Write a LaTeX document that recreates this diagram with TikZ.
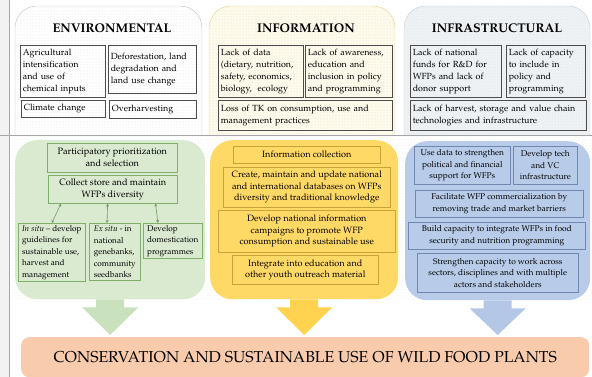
\documentclass[tikz,border=0pt]{standalone}
\usepackage[T1]{fontenc}
\usepackage{mathpazo}
\usepackage{xcolor}
\usepackage{tikz}
\usetikzlibrary{calc,patterns,arrows.meta}

\definecolor{infofill}{HTML}{FFFBEA}
\definecolor{infoline}{HTML}{E3CF86}
\definecolor{infrafill}{HTML}{EEF2F5}
\definecolor{infraline}{HTML}{C3CFD9}
\definecolor{gpanel}{HTML}{D9EAD0}
\definecolor{gline}{HTML}{7FAF6A}
\definecolor{garrow}{HTML}{C9E1BC}
\definecolor{ypanel}{HTML}{FFD966}
\definecolor{yline}{HTML}{C8A33A}
\definecolor{yarrow}{HTML}{FFD34F}
\definecolor{bpanel}{HTML}{B8CCEA}
\definecolor{bline}{HTML}{7088B0}
\definecolor{barrow}{HTML}{B4C7E7}
\definecolor{goal}{HTML}{F8CBAD}

\newcommand{\dropArrow}[3]{%
	\fill[#1] ($(#2.south)+(-14,0)$) -- ++(0,8) -- ++(-14,0) -- ($(#2.south |- #3.north)+(0,-2)$)
		-- ($(#2.south)+(28,8)$) -- ($(#2.south)+(14,8)$) -- ($(#2.south)+(14,0)$) -- cycle;}

\begin{document}
\begin{tikzpicture}[x=1pt,y=-1pt,
	ttl/.style={font=\bfseries\fontsize{12.6}{15}\selectfont},
	issue/.style={draw=black!70,line width=.6pt,anchor=north west,align=left,inner sep=2.5pt,font=\fontsize{8.9}{12}\selectfont},
	panel/.style={anchor=north west,rounded corners=22pt,inner sep=0pt},
	act/.style={anchor=north west,align=center,inner sep=2pt,line width=.6pt},
	gbox/.style={act,draw=gline,font=\fontsize{9.2}{12}\selectfont},
	gsmall/.style={act,draw=gline,align=left,font=\fontsize{8.2}{11.5}\selectfont},
	ybox/.style={act,draw=yline,font=\fontsize{9.1}{11.5}\selectfont},
	blubox/.style={act,draw=bline,font=\fontsize{8.4}{11.5}\selectfont},
	garw/.style={{Stealth[length=3pt,width=3pt]}-{Stealth[length=3pt,width=3pt]},draw=gline!90!black,line width=.6pt},
	dotted bg/.style={postaction={pattern=dots,pattern color=black!12}}]
	\useasboundingbox (0,0) rectangle (592,377);
	\fill[black!5] (0,0) rectangle (8.5,377);
	\path[pattern=dots,pattern color=black!10] (9,135) rectangle (592,300);

	% problem panels
	\draw[black!25,fill=white,dotted bg,rounded corners=22pt] (15,135) -- (15,6) -- (202,6) -- (202,135);
	\draw[infoline,fill=infofill,dotted bg,rounded corners=22pt] (209,135) -- (209,6) -- (395,6) -- (395,135);
	\draw[infraline,fill=infrafill,dotted bg,rounded corners=22pt] (404,135) -- (404,6) -- (590,6) -- (590,135);
	\draw[black!35] (9,0) -- (9,377);
	\draw[black!35] (0,135) -- (592,135);

	\node[ttl] (envt) at (112,28) {ENVIRONMENTAL};
	\node[ttl] (inft) at (306,28) {INFORMATION};
	\node[ttl] (inst) at (497,28) {INFRASTRUCTURAL};

	\node[issue,text width=80pt,minimum height=52pt] (agri) at (20,45) {Agricultural\\intensification\\and use of\\chemical inputs};
	\node[issue,text width=83pt,minimum height=48pt] (defo) at (108,45) {Deforestation, land\\degradation and\\land use change};
	\node[issue,text width=79pt,minimum height=17pt] (clim) at (21,100) {Climate change};
	\node[issue,text width=82pt,minimum height=18pt] (over) at (109,100) {Overharvesting};

	\node[issue,text width=80pt,minimum height=52pt] (data) at (218,45) {Lack of data\\(dietary, nutrition,\\safety, economics,\\biology,\ \ ecology};
	\node[issue,text width=82pt,minimum height=52pt] (awar) at (305,45) {Lack of awareness,\\education and\\inclusion in policy\\and programming};
	\node[issue,text width=169pt,minimum height=30pt] (loss) at (218,100) {Loss of TK on consumption, use and\\management practices};

	\node[issue,text width=86pt,minimum height=52pt] (fund) at (410,45) {Lack of national\\funds for R\&D for\\WFPs and lack of\\donor support};
	\node[issue,text width=74pt,minimum height=52pt] (capa) at (506,45) {Lack of capacity\\to include in\\policy and\\programming};
	\node[issue,text width=171pt,minimum height=30pt] (harv) at (410,100) {Lack of harvest, storage and value chain\\technologies and infrastructure};

	% action panels
	\node[panel,fill=gpanel,minimum width=190pt,minimum height=159pt] (grn) at (15,140) {};
	\node[panel,fill=ypanel,minimum width=188pt,minimum height=159pt] (ylw) at (210,140) {};
	\node[panel,fill=bpanel,minimum width=185pt,minimum height=159pt] (blu) at (405,141) {};

	\node[gbox,minimum width=130pt,minimum height=29pt] (prio) at (47,143) {Participatory prioritization\\and selection};
	\node[gbox,minimum width=129pt,minimum height=28pt] (coll) at (48,175) {Collect store and maintain\\WFPs diversity};
	\node[gsmall,minimum width=67pt,minimum height=57pt] (insitu) at (18,223) {\textit{In situ} -- develop\\guidelines for\\sustainable use,\\harvest and\\management};
	\node[gsmall,minimum width=51pt,minimum height=57pt] (exsitu) at (89,223) {\textit{Ex situ} - in\\national\\genebanks,\\community\\seedbanks};
	\node[gsmall,minimum width=59pt,minimum height=35pt] (dome) at (143,223) {Develop\\domestication\\programmes};
	\foreach \a/\b/\t in {.1/.5/insitu,.46/.35/exsitu,.83/.25/dome}
		\draw[garw] ($(coll.south west)!\a!(coll.south east)$) -- ($(\t.north west)!\b!(\t.north east)$);

	\node[ybox,minimum width=147pt,minimum height=17pt] (icol) at (233,146) {Information collection};
	\node[ybox,minimum width=167pt,minimum height=40pt] (crea) at (223,167) {Create, maintain and update national\\and international databases on WFPs\\diversity and traditional knowledge};
	\node[ybox,minimum width=177pt,minimum height=42pt] (camp) at (218,210) {Develop national information\\campaigns to promote WFP\\consumption and sustainable use};
	\node[ybox,minimum width=146pt,minimum height=29pt] (inte) at (232,255) {Integrate into education and\\other youth outreach material};

	\node[blubox,minimum width=96pt,minimum height=38pt] (used) at (414,146) {Use data to strengthen\\political and financial\\support for WFPs};
	\node[blubox,minimum width=64pt,minimum height=38pt] (tech) at (513,146) {Develop tech\\and VC\\infrastructure};
	\node[blubox,minimum width=168pt,minimum height=27pt] (faci) at (415,190) {Facilitate WFP commercialization by\\removing trade and market barriers};
	\node[blubox,minimum width=177pt,minimum height=27pt] (buil) at (408,222) {Build capacity to integrate WFPs in food\\security and nutrition programming};
	\node[blubox,minimum width=161pt,minimum height=39pt] (stre) at (417,253) {Strengthen capacity to work across\\sectors, disciplines and with multiple\\actors and stakeholders};

	% goal
	\node[anchor=north west,fill=goal,rounded corners=8pt,minimum width=568pt,minimum height=40pt,font=\fontsize{15.8}{18}\selectfont] (goal) at (21,337) {CONSERVATION AND SUSTAINABLE USE OF WILD FOOD PLANTS};
	\dropArrow{garrow}{grn}{goal}
	\dropArrow{yarrow}{ylw}{goal}
	\dropArrow{barrow}{blu}{goal}
\end{tikzpicture}
\end{document}
